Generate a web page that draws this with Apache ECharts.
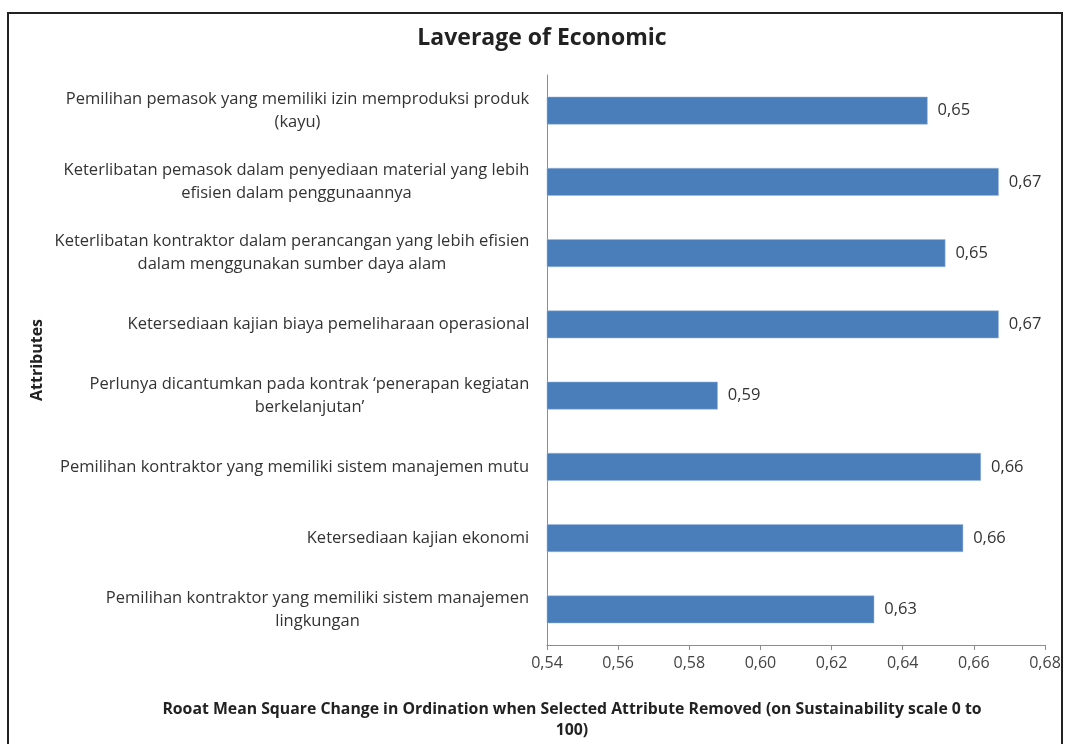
<!DOCTYPE html>
<html>
<head>
<meta charset="utf-8">
<script src="https://cdn.jsdelivr.net/npm/echarts@6/dist/echarts.min.js"></script>
<style>html,body{margin:0;padding:0;background:#fff;}#c{width:1066px;height:744px;}</style>
</head>
<body>
<div id="c"></div>
<script>
const categories = [
  "Pemilihan pemasok yang memiliki izin memproduksi produk\n(kayu)",
  "Keterlibatan pemasok dalam penyediaan material yang lebih\nefisien dalam penggunaannya",
  "Keterlibatan kontraktor dalam perancangan yang lebih efisien\ndalam menggunakan sumber daya alam",
  "Ketersediaan kajian biaya pemeliharaan operasional",
  "Perlunya dicantumkan pada kontrak \u2018penerapan kegiatan\nberkelanjutan\u2019",
  "Pemilihan kontraktor yang memiliki sistem manajemen mutu",
  "Ketersediaan kajian ekonomi",
  "Pemilihan kontraktor yang memiliki sistem manajemen\nlingkungan"
];
const values = [0.647, 0.667, 0.652, 0.667, 0.588, 0.662, 0.657, 0.632];
const xTicks = [0.54, 0.56, 0.58, 0.60, 0.62, 0.64, 0.66, 0.68];
const chartTitle = "Laverage of Economic";
const xAxisName = "Rooat Mean Square Change in Ordination when Selected Attribute Removed (on Sustainability scale 0 to\n100)";
const yAxisName = "Attributes";

const FONT = "'Open Sans', sans-serif";
const LABEL_SIZE = 16.5;
const cv = document.createElement('canvas').getContext('2d');
cv.font = LABEL_SIZE + "px 'Open Sans'";
const rich = {};
categories.forEach((c, i) => {
  const w = Math.max(...c.split('\n').map(s => cv.measureText(s).width));
  rich['r' + i] = {width: Math.ceil(w) + 1, align: 'center', fontSize: LABEL_SIZE, lineHeight: 23, color: '#333', fontFamily: FONT};
});

const fmt = v => v.toFixed(2).replace('.', ',');

const chart = echarts.init(document.getElementById('c'));
chart.setOption({
  backgroundColor: '#fff',
  animation: false,
  title: {
    text: chartTitle, left: 537, top: 22, textAlign: 'center',
    textStyle: {fontFamily: FONT, fontSize: 23, fontWeight: 'bold', color: '#222'}
  },
  grid: {left: 547, right: 21, top: 75, bottom: 99, containLabel: false},
  xAxis: {
    type: 'value', min: xTicks[0], max: xTicks[xTicks.length - 1], interval: 0.02,
    axisLine: {show: true, lineStyle: {color: '#8c8c8c', width: 1}},
    axisTick: {show: true, length: 5, lineStyle: {color: '#8c8c8c'}},
    splitLine: {show: false},
    axisLabel: {formatter: fmt, fontFamily: FONT, fontSize: 16, color: '#444', margin: 10}
  },
  yAxis: {
    type: 'category', data: categories, inverse: true,
    name: yAxisName, nameLocation: 'middle', nameRotate: 90, nameGap: 502,
    nameTextStyle: {fontFamily: FONT, fontSize: 16, fontWeight: 'bold', color: '#222'},
    axisLine: {show: true, lineStyle: {color: '#8c8c8c', width: 1}},
    axisTick: {show: false},
    axisLabel: {
      margin: 17, align: 'right', rich: rich,
      formatter: (v, i) => '{r' + i + '|' + v + '}'
    }
  },
  graphic: [
    {type: 'rect', shape: {x: 8, y: 13, width: 1054, height: 800}, style: {fill: 'none', stroke: '#222', lineWidth: 2}, silent: true},
    {type: 'text', x: 572, y: 699, style: {text: xAxisName, textAlign: 'center', font: "bold 15.8px 'Open Sans'", fill: '#222', lineHeight: 21}}
  ],
  series: [{
    type: 'bar', data: values, barCategoryGap: '61%',
    itemStyle: {color: '#4a7ebb', borderColor: '#9db8dc', borderWidth: 0.5},
    label: {show: true, position: 'right', distance: 10, formatter: p => fmt(p.value), fontFamily: FONT, fontSize: 16.5, color: '#333'}
  }]
});
</script>
</body>
</html>
